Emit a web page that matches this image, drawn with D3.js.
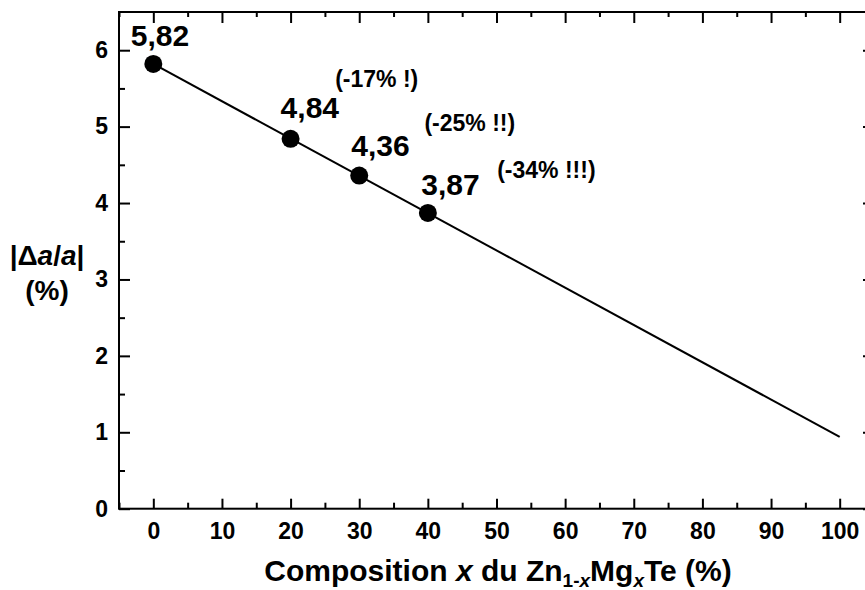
<!DOCTYPE html>
<html><head><meta charset="utf-8">
<script src="https://cdn.jsdelivr.net/npm/d3@7"></script>
<style>
body{margin:0;background:#fff;}
svg{display:block;font-family:"Liberation Sans",Arial,sans-serif;font-weight:bold;}
</style></head><body>
<svg id="c" width="865" height="590"></svg>
<script>
const compX = [0, 20, 30, 40];
const mismatch = [5.82, 4.84, 4.36, 3.87];
const pointLabels = ["5,82", "4,84", "4,36", "3,87"];
const labelAnchorX = [0.98, 22.8, 33.1, 43.3];
const labelAnchorY = [6.055, 5.109, 4.616, 4.105];
const fitX = [0, 100];
const fitY = [5.82, 0.94];
const notes = ["(-17% !)", "(-25% !!)", "(-34% !!!)"];
const noteX = [26.5, 39.5, 50.1];
const noteY = [5.519, 4.943, 4.331];
const xTicks = [0, 10, 20, 30, 40, 50, 60, 70, 80, 90, 100];
const yTicks = [0, 1, 2, 3, 4, 5, 6];

const svg = d3.select("#c");
const L = 119, R = 874, T = 12, B = 508.7;
const x = d3.scaleLinear().domain([-5, 105]).range([L, R]);
const y = d3.scaleLinear().domain([0, 6.5]).range([B, T]);

const xMinor = d3.range(-5, 106, 5).filter(v => v % 10 !== 0);
const yMinor = d3.range(0.5, 6.5, 1);

function styleAxis(g){
  g.selectAll("path.domain").remove();
  g.selectAll("line").attr("stroke","#000").attr("stroke-width",2);
  g.selectAll("text").attr("font-size",23).attr("font-weight","bold").attr("fill","#000");
}
// bottom
const gb = svg.append("g").attr("transform",`translate(0,${B})`)
  .call(d3.axisBottom(x).tickValues(xTicks).tickSize(-10).tickPadding(14).tickFormat(d3.format("d")));
styleAxis(gb);
gb.selectAll("text").attr("dy","0.71em").attr("y",14);
svg.append("g").attr("transform",`translate(0,${B})`)
  .call(d3.axisBottom(x).tickValues(xMinor).tickSize(-6).tickFormat("")).call(styleAxis);
// top
svg.append("g").attr("transform",`translate(0,${T})`)
  .call(d3.axisTop(x).tickValues(xTicks).tickSize(-11).tickFormat("")).call(styleAxis);
svg.append("g").attr("transform",`translate(0,${T})`)
  .call(d3.axisTop(x).tickValues(xMinor).tickSize(-5).tickFormat("")).call(styleAxis);
// left
const gl = svg.append("g").attr("transform",`translate(${L},0)`)
  .call(d3.axisLeft(y).tickValues(yTicks).tickSize(-11).tickPadding(11).tickFormat(d3.format("d")));
styleAxis(gl);
svg.append("g").attr("transform",`translate(${L},0)`)
  .call(d3.axisLeft(y).tickValues(yMinor).tickSize(-6).tickFormat("")).call(styleAxis);
// right
svg.append("g").attr("transform",`translate(${R},0)`)
  .call(d3.axisRight(y).tickValues(yTicks).tickSize(-11).tickFormat("")).call(styleAxis);
svg.append("g").attr("transform",`translate(${R},0)`)
  .call(d3.axisRight(y).tickValues(yMinor).tickSize(-6).tickFormat("")).call(styleAxis);
// frame
svg.append("rect").attr("x",L).attr("y",T).attr("width",R-L).attr("height",B-T)
  .attr("fill","none").attr("stroke","#000").attr("stroke-width",2);

// fit line
svg.append("path").datum(fitX.map((v,i)=>[v,fitY[i]]))
  .attr("d", d3.line().x(d=>x(d[0])).y(d=>y(d[1])))
  .attr("fill","none").attr("stroke","#000").attr("stroke-width",2);
// points
svg.selectAll("circle.pt").data(compX).join("circle").attr("class","pt")
  .attr("cx",d=>x(d)).attr("cy",(d,i)=>y(mismatch[i])).attr("r",9).attr("fill","#000");
// point labels
svg.selectAll("text.pl").data(pointLabels).join("text").attr("class","pl")
  .attr("x",(d,i)=>x(labelAnchorX[i])).attr("y",(d,i)=>y(labelAnchorY[i]))
  .attr("text-anchor","middle").attr("font-size",30).text(d=>d);
// notes
svg.selectAll("text.nt").data(notes).join("text").attr("class","nt")
  .attr("x",(d,i)=>x(noteX[i])).attr("y",(d,i)=>y(noteY[i]))
  .attr("font-size",23).text(d=>d);

// y label
const yl = svg.append("text").attr("x",47).attr("y",265).attr("text-anchor","middle").attr("font-size",28);
yl.append("tspan").text("|\u0394");
yl.append("tspan").attr("font-style","italic").text("a");
yl.append("tspan").text("/");
yl.append("tspan").attr("font-style","italic").text("a");
yl.append("tspan").text("|");
svg.append("text").attr("x",47).attr("y",300).attr("text-anchor","middle").attr("font-size",28).text("(%)");

// x label
const xl = svg.append("text").attr("x",498).attr("y",581).attr("text-anchor","middle").attr("font-size",30);
xl.append("tspan").text("Composition ");
xl.append("tspan").attr("font-style","italic").text("x");
xl.append("tspan").text(" du Zn");
xl.append("tspan").attr("font-size",19).attr("dy",6).text("1-");
xl.append("tspan").attr("font-size",19).attr("font-style","italic").text("x");
xl.append("tspan").attr("dy",-6).text("Mg");
xl.append("tspan").attr("font-size",19).attr("font-style","italic").attr("dy",6).text("x");
xl.append("tspan").attr("dy",-6).text("Te (%)");
</script>
</body></html>
